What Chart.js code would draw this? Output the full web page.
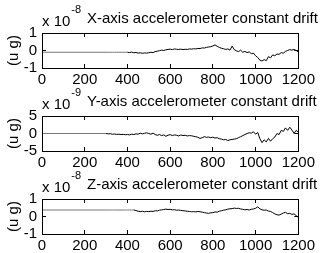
<!DOCTYPE html>
<html>
<head>
<meta charset="utf-8">
<script src="https://cdn.jsdelivr.net/npm/chart.js@4.4.1/dist/chart.umd.min.js"></script>
<style>
  html, body { margin: 0; padding: 0; background: #fff; overflow: hidden; }
  #wrap { position: relative; width: 322px; height: 253px; }
  #wrap canvas { position: absolute; left: 0; }
  .frame { position: absolute; box-sizing: border-box; border: 1px solid #000; pointer-events: none; }
</style>
</head>
<body>
<div id="wrap">
  <canvas id="plotX" width="322" height="92" style="top:0px"></canvas>
  <canvas id="plotY" width="322" height="92" style="top:83px"></canvas>
  <canvas id="plotZ" width="322" height="92" style="top:166px"></canvas>
</div>
<script>
// time axis (s)
const time = [
  0,
  300, 310, 320, 330, 340, 350, 360, 370, 380, 390,
  400, 410, 420, 430, 440, 450, 460, 470, 480, 490,
  500, 510, 520, 530, 540, 550, 560, 570, 580, 590,
  600, 610, 620, 630, 640, 650, 660, 670, 680, 690,
  700, 710, 720, 730, 740, 750, 760, 770, 780, 790,
  800, 810, 820, 830, 840, 850, 860, 870, 880, 890,
  900, 910, 920, 930, 940, 950, 960, 970, 980, 990,
  1000, 1010, 1020, 1030, 1040, 1050, 1060, 1070, 1080, 1090,
  1100, 1110, 1120, 1130, 1140, 1150, 1160, 1170, 1180, 1190,
  1200
];

// x 1e-8
const xDrift = [
  -0.1,
  -0.1, -0.1, -0.1, -0.1, -0.1, -0.1, -0.1, -0.1, -0.1, -0.1,
  -0.1, -0.12, -0.09, -0.13, -0.11, -0.15, -0.13, -0.16, -0.14, -0.15,
  -0.13, -0.1, -0.12, -0.06, -0.04, -0.01, 0.02, 0.0, 0.04, 0.06,
  0.08, 0.05, 0.09, 0.07, 0.06, 0.08, 0.05, 0.07, 0.06, 0.09,
  0.08, 0.1, 0.09, 0.12, 0.11, 0.15, 0.14, 0.18, 0.2, 0.22,
  0.26, 0.32, 0.24, 0.18, 0.13, 0.1, 0.06, 0.09, 0.02, 0.25,
  0.05, -0.02, -0.06, 0.02, -0.1, -0.05, -0.12, -0.08, -0.18, -0.15,
  -0.3, -0.4, -0.55, -0.6, -0.52, -0.58, -0.35, -0.42, -0.25, -0.3,
  -0.2, -0.22, -0.12, -0.15, -0.05, 0.0, 0.05, 0.02, 0.06, 0.0,
  -0.08
];

// x 1e-9
const yDrift = [
  0,
  0, -0.1, -0.05, -0.2, -0.15, -0.25, -0.2, -0.3, -0.25, -0.35,
  -0.3, -0.4, -0.2, -0.3, -0.1, -0.2, 0.1, -0.1, 0.05, 0.2,
  0.0, -0.2, 0.1, -0.3, -0.5, -0.3, -0.6, -0.4, -0.8, -0.5,
  -0.3, -0.6, -0.4, -0.5, -0.7, -0.4, -0.6, -0.5, -0.7, -0.6,
  -0.65, -0.8, -0.9, -1.1, -1.4, -1.2, -0.9, -1.1, -1.0, -1.2,
  -1.05, -1.3, -1.2, -1.5, -1.6, -1.8, -1.7, -2.0, -1.8, -1.7,
  -1.6, -1.5, -1.2, -0.9, -0.6, -0.3, 0.0, 0.2, 0.1, 0.5,
  -0.2, 0.3, -1.5, -2.6, -1.8, -2.4, -1.4, -2.2, -1.5, -1.0,
  0.0, -0.3, 0.9, 0.6, 1.6, 0.9, 1.8, 1.0, 0.05, 0.9,
  0.4
];

// x 1e-8
const zDrift = [
  0.37,
  0.37, 0.37, 0.37, 0.37, 0.37, 0.37, 0.37, 0.37, 0.37, 0.37,
  0.37, 0.37, 0.37, 0.37, 0.34, 0.3, 0.28, 0.3, 0.27, 0.29,
  0.28, 0.3, 0.29, 0.33, 0.32, 0.36, 0.38, 0.4, 0.42, 0.4,
  0.41, 0.38, 0.39, 0.36, 0.37, 0.35, 0.33, 0.32, 0.3, 0.29,
  0.27, 0.28, 0.26, 0.29, 0.27, 0.25, 0.22, 0.2, 0.18, 0.21,
  0.22, 0.26, 0.25, 0.3, 0.33, 0.36, 0.38, 0.42, 0.44, 0.45,
  0.48, 0.46, 0.47, 0.43, 0.41, 0.38, 0.4, 0.37, 0.41, 0.43,
  0.47, 0.55, 0.44, 0.38, 0.36, 0.37, 0.31, 0.29, 0.22, 0.15,
  0.1, 0.08, 0.14, 0.2, 0.24, 0.16, 0.18, 0.12, 0.15, 0.05,
  -0.05
];

const titles = [
  "X-axis accelerometer constant drift",
  "Y-axis accelerometer constant drift",
  "Z-axis accelerometer constant drift"
];
const exponents = ["-8", "-9", "-8"];
const yLimits = [[-1, 1], [-5, 5], [-1, 1]];

const FONT = '"Liberation Sans", Arial, sans-serif';

// "x 10^n" multiplier and the title above each axes
const matlabTitle = {
  id: "matlabTitle",
  afterDraw(chart, args, opts) {
    const { ctx, chartArea: a } = chart;
    const L = Math.round(a.left), T = Math.round(a.top);
    ctx.save();
    ctx.fillStyle = "#000";
    ctx.textAlign = "left";
    ctx.textBaseline = "alphabetic";
    ctx.font = "15px " + FONT;
    ctx.fillText("x 10", L, T - 7);
    const w = ctx.measureText("x 10").width;
    ctx.fillText(opts.title, 87, T - 10);
    ctx.font = "11px " + FONT;
    ctx.fillText(opts.exponent, L + w + 1, T - 20);
    ctx.restore();
  }
};

// box side: black border plus short ticks pointing into the plot
function boxSide(extra) {
  return Object.assign({
    grid: { drawOnChartArea: false, drawTicks: true, tickLength: -4, tickWidth: 1, tickColor: "#000", color: "#000" },
    border: { display: true, color: "#000", width: 1 }
  }, extra);
}

// outline the chart area, placed from the chart's own layout
function addFrame(chart) {
  const a = chart.chartArea;
  const top = parseInt(chart.canvas.style.top, 10) || chart.canvas.offsetTop;
  const frame = document.createElement("div");
  frame.className = "frame";
  frame.style.left = Math.round(a.left) + "px";
  frame.style.top = (top + Math.round(a.top)) + "px";
  frame.style.width = (Math.round(a.right) - Math.round(a.left) + 1) + "px";
  frame.style.height = (Math.round(a.bottom) - Math.round(a.top) + 1) + "px";
  document.getElementById("wrap").appendChild(frame);
}

function makePlot(canvasId, values, idx) {
  const points = time.map((t, i) => ({ x: t, y: values[i] }));
  const [yMin, yMax] = yLimits[idx];
  const chart = new Chart(document.getElementById(canvasId), {
    type: "line",
    data: {
      datasets: [
        {
          data: points,
          borderColor: "#000",
          borderWidth: 1,
          pointRadius: 0,
          tension: 0,
          segment: {
            // the flat start of the record renders lighter in the original
            borderColor: (c) => (c.p0.parsed.y === c.p1.parsed.y ? "#777" : "#000")
          }
        }
      ]
    },
    options: {
      responsive: false,
      animation: false,
      devicePixelRatio: 1,
      layout: { padding: { top: 33, right: 19, left: 0, bottom: 0 } },
      plugins: {
        legend: { display: false },
        tooltip: { enabled: false },
        matlabTitle: { title: titles[idx], exponent: exponents[idx] }
      },
      scales: {
        x: boxSide({
          type: "linear",
          position: "bottom",
          min: 0,
          max: 1200,
          ticks: {
            stepSize: 200,
            autoSkip: false,
            maxRotation: 0,
            padding: 7,
            color: "#000",
            font: { size: 15, family: FONT },
            callback: (v) => String(v)
          },
          afterFit: (s) => { s.height = 24; }
        }),
        xTop: boxSide({
          type: "linear",
          axis: "x",
          position: "top",
          min: 0,
          max: 1200,
          ticks: { display: false, stepSize: 200 },
          afterFit: (s) => { s.height = 0; }
        }),
        y: boxSide({
          type: "linear",
          position: "left",
          min: yMin,
          max: yMax,
          ticks: {
            stepSize: yMax,
            autoSkip: false,
            padding: 9,
            color: "#000",
            font: { size: 15, family: FONT },
            callback: (v) => String(v)
          },
          title: {
            display: true,
            text: "(u g)",
            color: "#000",
            font: { size: 15, family: FONT },
            padding: { top: 5, bottom: 0 }
          },
          afterFit: (s) => { s.width = 42; }
        }),
        yRight: boxSide({
          type: "linear",
          axis: "y",
          position: "right",
          min: yMin,
          max: yMax,
          ticks: { display: false, stepSize: yMax },
          afterFit: (s) => { s.width = 0; }
        })
      }
    },
    plugins: [matlabTitle]
  });
  addFrame(chart);
  return chart;
}

makePlot("plotX", xDrift, 0);
makePlot("plotY", yDrift, 1);
makePlot("plotZ", zDrift, 2);
</script>
</body>
</html>
